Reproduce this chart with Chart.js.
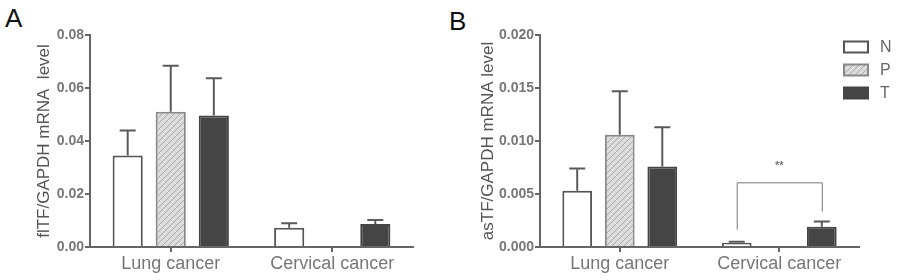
<!DOCTYPE html>
<html>
<head>
<meta charset="utf-8">
<script src="https://cdn.jsdelivr.net/npm/chart.js@4.4.1/dist/chart.umd.min.js"></script>
<style>
  body { margin: 0; background: #fff; width: 898px; height: 280px; overflow: hidden; position: relative; font-family: "Liberation Sans", Arial, sans-serif; }
  .panel { position: absolute; top: 0; height: 280px; }
  #pa { left: 0; width: 440px; }
  #pb { left: 450px; width: 448px; }
  .tag { position: absolute; font-size: 26px; line-height: 26px; color: #111; }
</style>
</head>
<body>
<div class="tag" style="left:5px;top:5px">A</div>
<div class="tag" style="left:449px;top:8px">B</div>
<div class="panel" id="pa"><canvas id="chartA" width="440" height="280"></canvas></div>
<div class="panel" id="pb"><canvas id="chartB" width="448" height="280"></canvas></div>
<script>
// data
const categories = ['Lung cancer', 'Cervical cancer'];
const groups = ['N', 'P', 'T'];

// panel A: flTF/GAPDH
const fltfN = [0.0345, 0.0073];
const fltfP = [0.0510, null];
const fltfT = [0.0496, 0.0087];
const fltfErrN = [0.0095, 0.0017];
const fltfErrP = [0.0174, null];
const fltfErrT = [0.0141, 0.0015];
const fltfTicks = [0, 0.02, 0.04, 0.06, 0.08];

// panel B: asTF/GAPDH
const astfN = [0.0053, 0.0004];
const astfP = [0.0106, null];
const astfT = [0.0076, 0.0019];
const astfErrN = [0.0021, 0.0001];
const astfErrP = [0.0041, null];
const astfErrT = [0.0037, 0.0005];
const astfTicks = [0, 0.005, 0.010, 0.015, 0.020];

// significance mark in B (category, from group, to group, level, text)
const astfSig = [{ cat: 1, from: 0, to: 2, level: 0.0061, text: '**' }];

const axisColor = '#666';
const textColor = '#777';

// hatch fill for P
function makeHatch() {
  const c = document.createElement('canvas');
  c.width = 6; c.height = 6;
  const g = c.getContext('2d');
  g.fillStyle = '#dcdcdc';
  g.fillRect(0, 0, 6, 6);
  g.strokeStyle = '#a8a8a8';
  g.lineWidth = 1;
  g.beginPath();
  g.moveTo(0, 6); g.lineTo(6, 0);
  g.moveTo(-3, 3); g.lineTo(3, -3);
  g.moveTo(3, 9); g.lineTo(9, 3);
  g.stroke();
  return g.createPattern(c, 'repeat');
}
const hatch = makeHatch();

const fills = ['#ffffff', hatch, '#454545'];
const borders = ['#555', '#888', '#454545'];

// error bars (upward only)
const errorBars = {
  id: 'errorBars',
  afterDatasetsDraw(chart) {
    const ctx = chart.ctx;
    const y = chart.scales.y;
    ctx.save();
    ctx.strokeStyle = '#5a5a5a';
    ctx.lineWidth = 2;
    chart.data.datasets.forEach((ds, i) => {
      const meta = chart.getDatasetMeta(i);
      meta.data.forEach((bar, j) => {
        const v = ds.data[j], e = ds.errors[j];
        if (v == null || e == null) return;
        const yTop = y.getPixelForValue(v + e);
        ctx.beginPath();
        ctx.moveTo(bar.x, bar.y);
        ctx.lineTo(bar.x, yTop);
        ctx.moveTo(bar.x - 8, yTop);
        ctx.lineTo(bar.x + 8, yTop);
        ctx.stroke();
      });
    });
    ctx.restore();
  }
};

// bracket with stars
const sigBracket = {
  id: 'sigBracket',
  afterDatasetsDraw(chart, args, opts) {
    const marks = opts.marks || [];
    if (!marks.length) return;
    const ctx = chart.ctx;
    const y = chart.scales.y;
    ctx.save();
    ctx.strokeStyle = '#777';
    ctx.lineWidth = 1;
    marks.forEach(m => {
      const d1 = chart.data.datasets[m.from], d2 = chart.data.datasets[m.to];
      const b1 = chart.getDatasetMeta(m.from).data[m.cat];
      const b2 = chart.getDatasetMeta(m.to).data[m.cat];
      const yTop = y.getPixelForValue(m.level);
      const y1 = y.getPixelForValue(d1.data[m.cat] + d1.errors[m.cat]) - 12;
      const y2 = y.getPixelForValue(d2.data[m.cat] + d2.errors[m.cat]) - 10;
      ctx.beginPath();
      ctx.moveTo(b1.x + 0.5, y1);
      ctx.lineTo(b1.x + 0.5, yTop + 0.5);
      ctx.lineTo(b2.x + 0.5, yTop + 0.5);
      ctx.lineTo(b2.x + 0.5, y2);
      ctx.stroke();
      ctx.fillStyle = '#777';
      ctx.font = 'bold 11px "Liberation Sans", Arial';
      ctx.textAlign = 'center';
      ctx.textBaseline = 'middle';
      ctx.fillText(m.text, (b1.x + b2.x) / 2, yTop - 16);
    });
    ctx.restore();
  }
};

// legend boxes at the right of panel B
const sideLegend = {
  id: 'sideLegend',
  afterDraw(chart, args, opts) {
    if (!opts.show) return;
    const ctx = chart.ctx;
    ctx.save();
    chart.data.datasets.forEach((ds, i) => {
      const cy = opts.y + i * 23;
      ctx.fillStyle = ds.backgroundColor;
      ctx.fillRect(opts.x, cy - 5.5, 24, 11);
      ctx.strokeStyle = ds.borderColor;
      ctx.lineWidth = 2;
      ctx.strokeRect(opts.x, cy - 5.5, 24, 11);
      ctx.fillStyle = '#666';
      ctx.font = '16px "Liberation Sans", Arial';
      ctx.textAlign = 'left';
      ctx.textBaseline = 'middle';
      ctx.fillText(ds.label, opts.x + 36, cy + 1);
    });
    ctx.restore();
  }
};

function makeChart(id, means, errs, ticks, decimals, title, titlePad, padRight, marks, legend) {
  const datasets = groups.map((g, i) => ({
    label: g,
    data: means[i],
    errors: errs[i],
    backgroundColor: fills[i],
    borderColor: borders[i],
    borderWidth: 2,
    borderSkipped: 'bottom',
    barPercentage: 0.7,
    categoryPercentage: 0.8
  }));
  return new Chart(document.getElementById(id), {
    type: 'bar',
    data: { labels: categories, datasets },
    plugins: [errorBars, sigBracket, sideLegend],
    options: {
      responsive: false,
      animation: false,
      layout: { padding: { top: 35, right: padRight, bottom: 0, left: 0 } },
      plugins: {
        legend: { display: false },
        tooltip: { enabled: false },
        sigBracket: { marks },
        sideLegend: legend
      },
      scales: {
        x: {
          grid: { offset: false, drawOnChartArea: false, drawTicks: true, tickLength: 5, color: axisColor, lineWidth: 2 },
          border: { display: true, color: axisColor, width: 2 },
          ticks: { color: textColor, font: { size: 18, family: '"Liberation Sans", Arial' }, padding: 1, maxRotation: 0 },
          afterFit: s => { s.height = 33; }
        },
        y: {
          min: ticks[0],
          max: ticks[ticks.length - 1],
          afterBuildTicks: s => { s.ticks = ticks.map(v => ({ value: v })); },
          grid: { drawOnChartArea: false, drawTicks: true, tickLength: 5, color: axisColor, lineWidth: 2 },
          border: { display: true, color: axisColor, width: 2 },
          ticks: {
            color: textColor,
            font: { size: 14, weight: 'bold', family: '"Liberation Sans", Arial' },
            padding: 1,
            callback: v => Number(v).toFixed(decimals)
          },
          title: {
            display: true,
            text: title,
            color: '#555',
            font: { size: 17, family: '"Liberation Sans", Arial' },
            padding: { top: titlePad, bottom: 0 }
          },
          afterFit: s => { s.width = 90; }
        }
      }
    }
  });
}

makeChart('chartA', [fltfN, fltfP, fltfT], [fltfErrN, fltfErrP, fltfErrT], fltfTicks, 2,
  'flTF/GAPDH mRNA  level', 34, 27, [], { show: false });

makeChart('chartB', [astfN, astfP, astfT], [astfErrN, astfErrP, astfErrT], astfTicks, 3,
  'asTF/GAPDH mRNA level', 28, 39, astfSig, { show: true, x: 394, y: 47 });
</script>
</body>
</html>
